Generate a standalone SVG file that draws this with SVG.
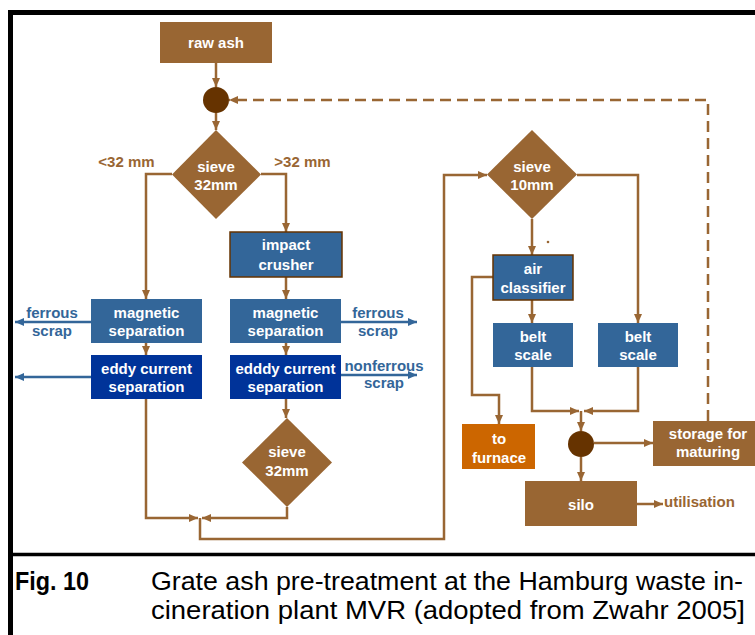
<svg xmlns="http://www.w3.org/2000/svg" width="755" height="635" viewBox="0 0 755 635">
<defs>
<marker id="ab" markerUnits="userSpaceOnUse" markerWidth="10" markerHeight="9" refX="9" refY="4" orient="auto"><path d="M0,0 L9,4 L0,8 z" fill="#996633"/></marker>
<marker id="au" markerUnits="userSpaceOnUse" markerWidth="10" markerHeight="9" refX="9" refY="4" orient="auto"><path d="M0,0 L9,4 L0,8 z" fill="#336699"/></marker>
<style>
.t{font-family:"Liberation Sans",Arial,sans-serif;font-weight:bold;font-size:15px;fill:#ffffff;text-anchor:middle}
.lb{font-family:"Liberation Sans",Arial,sans-serif;font-weight:bold;font-size:15px;fill:#996633;text-anchor:middle}
.lu{font-family:"Liberation Sans",Arial,sans-serif;font-weight:bold;font-size:15px;fill:#336699;text-anchor:middle}
.br{fill:#996633}
.bl{fill:#336699}
.bd{fill:#003399}
.bo{fill:#CC6600}
.dk{fill:#663300}
.c{fill:none;stroke:#996633;stroke-width:2.5;marker-end:url(#ab)}
.cu{fill:none;stroke:#336699;stroke-width:2.5;marker-end:url(#au)}
.cap{font-family:"Liberation Sans",Arial,sans-serif;font-size:25.5px;fill:#000000}
</style>
</defs>
<rect width="755" height="635" fill="#ffffff"/>
<g id="frame" stroke="#000000" fill="none">
<line x1="8" y1="12.5" x2="755" y2="12.5" stroke-width="5"/>
<line x1="10.5" y1="10" x2="10.5" y2="635" stroke-width="5"/>
<line x1="8" y1="554.5" x2="755" y2="554.5" stroke-width="3.5"/>
</g>
<g id="connectors">
<path class="c" d="M216,63 V87"/>
<path class="c" d="M216,110 V130"/>
<path class="c" d="M172,174 H146 V299"/>
<path class="c" d="M261,174 H286 V232"/>
<path class="c" d="M286,277 V299"/>
<path class="c" d="M146,343 V355"/>
<path class="c" d="M286,343 V355"/>
<path class="c" d="M146,399 V518 H198"/>
<path class="c" d="M286,399 V418"/>
<path class="c" d="M287,507 V518 H202"/>
<path class="c" d="M200,518 V539 H444 V175 H487"/>
<path class="c" d="M532,219 V255"/>
<path class="c" d="M577,175 H638 V323"/>
<path class="c" d="M532,300 V323"/>
<path class="c" d="M493,277 H472 V395 H499 V424"/>
<path class="c" d="M532,367 V411 H579"/>
<path class="c" d="M638,367 V411 H584"/>
<path class="c" d="M581,411 V431"/>
<path class="c" d="M594,443 H653"/>
<path class="c" d="M581,457 V481"/>
<path class="c" d="M637,504 H663"/>
<path class="c" d="M708,421 V100 H229" stroke-width="3" stroke-dasharray="11,6"/>
<path class="cu" d="M91,322 H15"/>
<path class="cu" d="M91,377 H15"/>
<path class="cu" d="M341,322 H417"/>
<path class="cu" d="M341,375 H417"/>
<circle cx="548" cy="242" r="1.3" class="br"/>
</g>
<g id="raw-ash"><rect x="160" y="22" width="112" height="41" class="br"/><text class="t" x="216" y="48">raw ash</text></g>
<g id="mixer-top"><circle cx="216" cy="100" r="13" class="dk"/></g>
<g id="sieve-32-top"><polygon points="216,130 261,174.5 216,219 172,174.5" class="br"/><text class="t" x="216" y="172">sieve</text><text class="t" x="216" y="190">32mm</text></g>
<g id="lbl-lt32"><text class="lb" x="126.5" y="167">&lt;32 mm</text></g>
<g id="lbl-gt32"><text class="lb" x="302.5" y="167">&gt;32 mm</text></g>
<g id="impact-crusher"><rect x="230" y="232" width="112" height="45" class="bl" stroke="#663300" stroke-width="1.5"/><text class="t" x="286" y="250">impact</text><text class="t" x="286" y="270">crusher</text></g>
<g id="mag-left"><rect x="91" y="299" width="111" height="44" class="bl"/><text class="t" x="146.5" y="318">magnetic</text><text class="t" x="146.5" y="336">separation</text></g>
<g id="eddy-left"><rect x="91" y="355" width="111" height="44" class="bd"/><text class="t" x="146.5" y="374">eddy current</text><text class="t" x="146.5" y="392">separation</text></g>
<g id="ferrous-left"><text class="lu" x="52" y="318">ferrous</text><text class="lu" x="52" y="336">scrap</text></g>
<g id="mag-right"><rect x="230" y="299" width="111" height="44" class="bl"/><text class="t" x="285.5" y="318">magnetic</text><text class="t" x="285.5" y="336">separation</text></g>
<g id="eddy-right"><rect x="230" y="355" width="111" height="44" class="bd"/><text class="t" x="285.5" y="374">edddy current</text><text class="t" x="285.5" y="392">separation</text></g>
<g id="ferrous-right"><text class="lu" x="378" y="318">ferrous</text><text class="lu" x="378" y="336">scrap</text></g>
<g id="nonferrous-right"><text class="lu" x="384" y="371">nonferrous</text><text class="lu" x="384" y="388">scrap</text></g>
<g id="sieve-32-bottom"><polygon points="287,418 332,462.5 287,507 242,462.5" class="br"/><text class="t" x="287" y="457">sieve</text><text class="t" x="287" y="476">32mm</text></g>
<g id="sieve-10"><polygon points="532,130 577,174.5 532,219 487,174.5" class="br"/><text class="t" x="532" y="172">sieve</text><text class="t" x="532" y="190">10mm</text></g>
<g id="air-classifier"><rect x="493" y="255" width="80" height="45" class="bl" stroke="#663300" stroke-width="1.5"/><text class="t" x="533" y="274">air</text><text class="t" x="533" y="293">classifier</text></g>
<g id="belt-scale-left"><rect x="493" y="323" width="80" height="44" class="bl"/><text class="t" x="533" y="342">belt</text><text class="t" x="533" y="360">scale</text></g>
<g id="belt-scale-right"><rect x="598" y="323" width="80" height="44" class="bl"/><text class="t" x="638" y="342">belt</text><text class="t" x="638" y="360">scale</text></g>
<g id="to-furnace"><rect x="462" y="424" width="73" height="45" class="bo"/><text class="t" x="499" y="444">to</text><text class="t" x="499" y="463">furnace</text></g>
<g id="mixer-bottom"><circle cx="581" cy="444" r="13" class="dk"/></g>
<g id="storage"><rect x="653" y="421" width="110" height="45" class="br"/><text class="t" x="708" y="439">storage for</text><text class="t" x="708" y="457">maturing</text></g>
<g id="silo"><rect x="525" y="481" width="112" height="45" class="br"/><text class="t" x="581" y="510">silo</text></g>
<g id="utilisation"><text class="lb" x="664" y="507" style="text-anchor:start">utilisation</text></g>
<g id="caption">
<text class="cap" x="15" y="590" font-weight="bold" textLength="74" lengthAdjust="spacingAndGlyphs">Fig. 10</text>
<text class="cap" x="151" y="590" textLength="592" lengthAdjust="spacingAndGlyphs">Grate ash pre-treatment at the Hamburg waste in-</text>
<text class="cap" x="151" y="619" textLength="594" lengthAdjust="spacingAndGlyphs">cineration plant MVR (adopted from Zwahr 2005]</text>
</g>
</svg>
